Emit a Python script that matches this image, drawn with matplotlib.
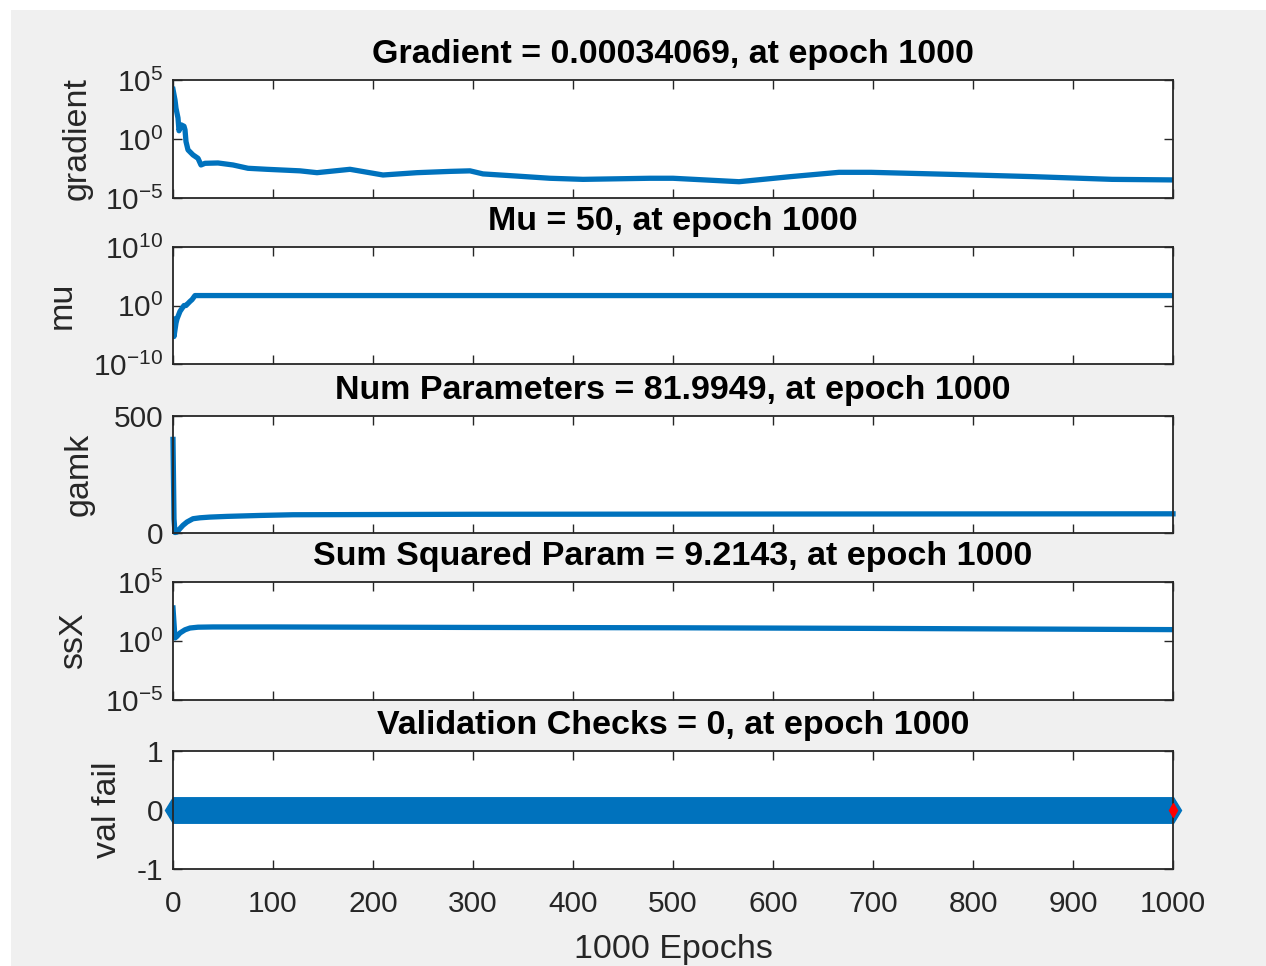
"""Training state plot (trainbr style): gradient, mu, gamk, ssX and validation checks."""

import matplotlib

matplotlib.use("Agg")
import matplotlib.pyplot as plt
from matplotlib.patches import Rectangle
from matplotlib.ticker import NullLocator

plt.rcParams["font.family"] = ["Liberation Sans", "DejaVu Sans"]
plt.rcParams["mathtext.fontset"] = "custom"
plt.rcParams["mathtext.rm"] = "Liberation Sans"
plt.rcParams["mathtext.it"] = "Liberation Sans"
plt.rcParams["mathtext.bf"] = "Liberation Sans:bold"
plt.rcParams["mathtext.default"] = "regular"
plt.rcParams["axes.unicode_minus"] = False

# values
grad_epochs = [0, 2, 3, 5, 6, 8, 11, 12, 13, 15, 20, 25, 28, 32, 45, 60, 75, 94, 127, 144, 177,
               210, 244, 277, 297, 310, 344, 377, 410, 477, 500, 566, 618, 666, 698, 779, 859,
               939, 1000]
grad_values = [1.6e4, 2e3, 4e2, 6e1, 5e0, 1.6e1, 1.2e1, 6e0, 6e-1, 1.2e-1, 4.5e-2, 2.3e-2, 6.3e-3,
               8.7e-3, 9.3e-3, 6.3e-3, 3.3e-3, 2.7e-3, 2.0e-3, 1.4e-3, 2.7e-3, 8.9e-4, 1.4e-3,
               1.8e-3, 2.0e-3, 1.1e-3, 7.2e-4, 4.7e-4, 3.8e-4, 4.7e-4, 4.7e-4, 2.4e-4, 6.5e-4,
               1.5e-3, 1.5e-3, 1.0e-3, 6.5e-4, 3.8e-4, 3.4069e-4]

mu_epochs = [0, 1, 3, 4, 7, 11, 13, 17, 19, 22, 1000]
mu_values = [5e-3, 5e-6, 1e-3, 5e-3, 1e-1, 1, 1, 5, 10, 50, 50]

gamk_epochs = [0, 1, 2, 4, 7, 10, 14, 20, 27, 37, 54, 87, 120, 300, 600, 1000]
gamk_values = [400, 60, 2, 4, 19, 33, 47, 61, 65, 68, 71, 75, 78, 80, 81, 81.9949]

ssx_epochs = [0, 1, 2, 4, 7, 12, 17, 25, 40, 100, 300, 500, 700, 1000]
ssx_values = [630, 32, 1.8, 2.5, 4.8, 8.9, 12.6, 14.8, 15.5, 15.5, 14.1, 13.2, 11.7, 9.2143]

val_epochs = list(range(1001))
val_fail = [0] * 1001

x_ticks = [0, 100, 200, 300, 400, 500, 600, 700, 800, 900, 1000]

BLUE = "#0072BD"
DARK = "#262626"
W_PX, H_PX = 1266, 966


def make_axes(fig, top, bottom, left=173, right=1173):
    return fig.add_axes([left / W_PX, 1 - bottom / H_PX, (right - left) / W_PX, (bottom - top) / H_PX])


def style(ax, title, ylabel, label_x, show_xlabels=False):
    ax.set_xlim(0, 1000)
    ax.set_xticks(x_ticks)
    if not show_xlabels:
        ax.set_xticklabels([])
    ax.yaxis.set_minor_locator(NullLocator())
    ax.tick_params(direction="in", length=6.5, width=1.0, top=True, right=True,
                   colors=DARK, labelsize=21.5, pad=7)
    ax.tick_params(axis="x", pad=15)
    for s in ax.spines.values():
        s.set_color(DARK)
        s.set_linewidth(1.3)
    ax.set_title(title, fontsize=24.5, fontweight="bold", pad=12)
    ax.set_ylabel(ylabel, fontsize=24.5, color=DARK)
    ax.yaxis.set_label_coords(label_x, 0.5)
    ax.yaxis.label.set_va("center")


def main():
    fig = plt.figure(figsize=(W_PX / 100, H_PX / 100), dpi=100, facecolor="white")
    fig.patches.append(Rectangle((11 / W_PX, 0), 1, 1 - 10 / H_PX, transform=fig.transFigure,
                                 facecolor="#F0F0F0", edgecolor="none", zorder=-10))

    ax1 = make_axes(fig, 80, 198)
    ax1.plot(grad_epochs, grad_values, color=BLUE, lw=3.8)
    ax1.set_yscale("log")
    ax1.set_ylim(1e-5, 1e5)
    ax1.set_yticks([1e-5, 1, 1e5])
    style(ax1, "Gradient = 0.00034069, at epoch 1000", "gradient", -0.096)

    ax2 = make_axes(fig, 247, 364)
    ax2.plot(mu_epochs, mu_values, color=BLUE, lw=3.8)
    ax2.set_yscale("log")
    ax2.set_ylim(1e-10, 1e10)
    ax2.set_yticks([1e-10, 1, 1e10])
    style(ax2, "Mu = 50, at epoch 1000", "mu", -0.111)

    ax3 = make_axes(fig, 416, 533)
    ax3.plot(gamk_epochs, gamk_values, color=BLUE, lw=3.8, clip_on=False)
    ax3.set_ylim(0, 500)
    ax3.set_yticks([0, 500])
    style(ax3, "Num Parameters = 81.9949, at epoch 1000", "gamk", -0.094)

    ax4 = make_axes(fig, 582, 700)
    ax4.plot(ssx_epochs, ssx_values, color=BLUE, lw=3.8)
    ax4.set_yscale("log")
    ax4.set_ylim(1e-5, 1e5)
    ax4.set_yticks([1e-5, 1, 1e5])
    style(ax4, "Sum Squared Param = 9.2143, at epoch 1000", "ssX", -0.099)

    ax5 = make_axes(fig, 751, 869)
    ax5.plot(val_epochs, val_fail, color=BLUE, lw=3.8, marker="d", markersize=13,
             markerfacecolor=BLUE, markeredgecolor=BLUE, clip_on=False)
    ax5.plot(val_epochs[-1:], val_fail[-1:], linestyle="none", marker="d", markersize=7.5,
             markerfacecolor="red", markeredgecolor="red", clip_on=False, zorder=5)
    ax5.set_ylim(-1, 1)
    ax5.set_yticks([-1, 0, 1])
    style(ax5, "Validation Checks = 0, at epoch 1000", "val fail", -0.066, show_xlabels=True)
    ax5.set_xlabel("1000 Epochs", fontsize=24.5, color=DARK)
    ax5.xaxis.set_label_coords(0.5, -0.55)
    ax5.xaxis.label.set_va("top")

    fig.savefig("out.png", dpi=100, facecolor=fig.get_facecolor())
    plt.close(fig)


if __name__ == "__main__":
    main()
